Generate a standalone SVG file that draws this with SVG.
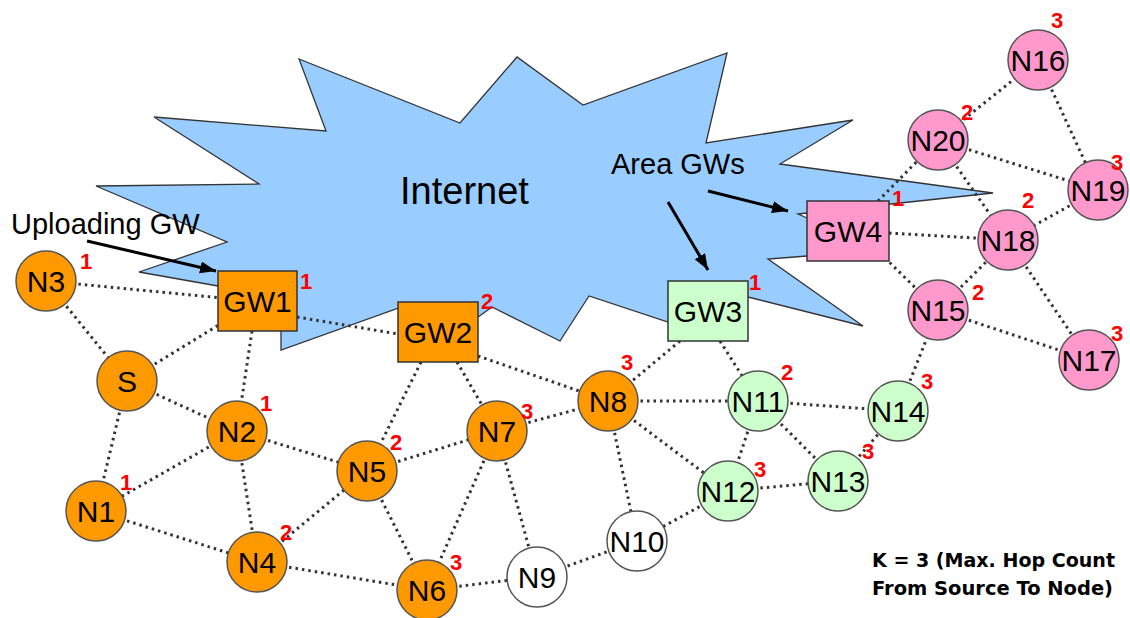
<svg xmlns="http://www.w3.org/2000/svg" width="1130" height="618" viewBox="0 0 1130 618">
<style>
.e{stroke:#333;stroke-width:3;stroke-dasharray:2.5 4;fill:none}
.or{fill:#ff9900;stroke:#555;stroke-width:1.5}
.pk{fill:#ff99cc;stroke:#555;stroke-width:1.5}
.gr{fill:#ccffcc;stroke:#555;stroke-width:1.5}
.wh{fill:#ffffff;stroke:#555;stroke-width:1.5}
.bx{stroke:#333;stroke-width:1.5}
.t{font-family:"Liberation Sans",Arial,sans-serif;font-size:30px;fill:#000;text-anchor:middle}
.h{font-family:"Liberation Sans",Arial,sans-serif;font-size:22px;font-weight:bold;fill:#ff0000;text-anchor:middle}
.a{font-family:"Liberation Sans",Arial,sans-serif;font-size:29px;fill:#000}
.ar{stroke:#000;stroke-width:3;fill:none}
.k{font-family:"DejaVu Sans",Verdana,sans-serif;font-size:19px;font-weight:bold;fill:#000}
</style>
<defs>
<marker id="ah" markerUnits="userSpaceOnUse" markerWidth="18" markerHeight="14" refX="16" refY="6" orient="auto">
<path d="M0,0 L16,6 L0,12 z" fill="#000"/>
</marker>
</defs>
<g id="cloud">
<path d="M299,59 L460,123 L517,57 L583,105 L727,53 L706,143 L853,120 L780,164 L993,193 L798,214 L845,235 L807,256 L768,259 L863,326 L748,297 L668,322 L589,296 L560,341 L492,307 L460,330 L410,304 L281,350 L281,300 L218,286 L139,272 L227,242 L96,186 L259,184 L154,117 L326,131 Z" fill="#99ccff" stroke="#333" stroke-width="1.3"/>
<text class="a" x="400" y="204" style="font-size:38px">Internet</text>
</g>
<g id="annotations">
<text class="a" x="11" y="234">Uploading GW</text>
<text class="a" x="611" y="174">Area GWs</text>
<line class="ar" x1="87" y1="241" x2="216" y2="271" marker-end="url(#ah)"/>
<line class="ar" x1="708" y1="191" x2="788" y2="211" marker-end="url(#ah)"/>
<line class="ar" x1="668" y1="202" x2="708" y2="270" marker-end="url(#ah)"/>
<text class="k" x="872" y="567" textLength="243" lengthAdjust="spacingAndGlyphs">K = 3 (Max.  Hop Count</text>
<text class="k" x="872" y="595" textLength="241" lengthAdjust="spacingAndGlyphs">From Source To Node)</text>
</g>
<g id="connectors">
<line class="e" x1="46" y1="281" x2="222" y2="298"/>
<line class="e" x1="46" y1="281" x2="127" y2="381"/>
<line class="e" x1="127" y1="381" x2="222" y2="323"/>
<line class="e" x1="127" y1="381" x2="237" y2="431"/>
<line class="e" x1="127" y1="381" x2="96" y2="511"/>
<line class="e" x1="252" y1="331" x2="237" y2="431"/>
<line class="e" x1="297" y1="317" x2="398" y2="334"/>
<line class="e" x1="237" y1="431" x2="96" y2="511"/>
<line class="e" x1="237" y1="431" x2="367" y2="471"/>
<line class="e" x1="237" y1="431" x2="257" y2="562"/>
<line class="e" x1="96" y1="511" x2="257" y2="562"/>
<line class="e" x1="257" y1="562" x2="367" y2="471"/>
<line class="e" x1="257" y1="562" x2="427" y2="590"/>
<line class="e" x1="421" y1="362" x2="367" y2="471"/>
<line class="e" x1="367" y1="471" x2="497" y2="431"/>
<line class="e" x1="367" y1="471" x2="427" y2="590"/>
<line class="e" x1="457" y1="362" x2="497" y2="431"/>
<line class="e" x1="478" y1="356" x2="608" y2="401"/>
<line class="e" x1="497" y1="431" x2="608" y2="401"/>
<line class="e" x1="497" y1="431" x2="427" y2="590"/>
<line class="e" x1="497" y1="431" x2="537" y2="577"/>
<line class="e" x1="427" y1="590" x2="537" y2="577"/>
<line class="e" x1="537" y1="577" x2="637" y2="541"/>
<line class="e" x1="608" y1="401" x2="637" y2="541"/>
<line class="e" x1="680" y1="341" x2="608" y2="401"/>
<line class="e" x1="608" y1="401" x2="758" y2="401"/>
<line class="e" x1="608" y1="401" x2="728" y2="491"/>
<line class="e" x1="720" y1="341" x2="758" y2="401"/>
<line class="e" x1="758" y1="401" x2="728" y2="491"/>
<line class="e" x1="758" y1="401" x2="838" y2="481"/>
<line class="e" x1="758" y1="401" x2="898" y2="411"/>
<line class="e" x1="728" y1="491" x2="838" y2="481"/>
<line class="e" x1="728" y1="491" x2="637" y2="541"/>
<line class="e" x1="838" y1="481" x2="898" y2="411"/>
<line class="e" x1="898" y1="411" x2="938" y2="310"/>
<line class="e" x1="885" y1="258" x2="938" y2="310"/>
<line class="e" x1="938" y1="310" x2="1008" y2="240"/>
<line class="e" x1="938" y1="310" x2="1089" y2="360"/>
<line class="e" x1="1008" y1="240" x2="1089" y2="360"/>
<line class="e" x1="889" y1="233" x2="1008" y2="240"/>
<line class="e" x1="878" y1="201" x2="938" y2="140"/>
<line class="e" x1="938" y1="140" x2="1008" y2="240"/>
<line class="e" x1="938" y1="140" x2="1098" y2="190"/>
<line class="e" x1="938" y1="140" x2="1038" y2="60"/>
<line class="e" x1="1038" y1="60" x2="1098" y2="190"/>
<line class="e" x1="1098" y1="190" x2="1008" y2="240"/>
</g>
<g id="N3"><circle class="or" cx="46" cy="281" r="30"/><text class="t" x="46" y="292">N3</text><text class="h" x="86" y="269">1</text></g>
<g id="S"><circle class="or" cx="127" cy="381" r="30"/><text class="t" x="127" y="392">S</text></g>
<g id="GW1"><rect class="bx" x="218" y="271" width="79" height="60" fill="#ff9900"/><text class="t" x="257.5" y="312">GW1</text><text class="h" x="306" y="289">1</text></g>
<g id="GW2"><rect class="bx" x="398" y="302" width="80" height="60" fill="#ff9900"/><text class="t" x="438" y="343">GW2</text><text class="h" x="487" y="309">2</text></g>
<g id="GW3"><rect class="bx" x="668" y="281" width="80" height="60" fill="#ccffcc"/><text class="t" x="708" y="322">GW3</text><text class="h" x="755" y="290">1</text></g>
<g id="GW4"><rect class="bx" x="807" y="201" width="82" height="60" fill="#ff99cc"/><text class="t" x="848" y="242">GW4</text><text class="h" x="898" y="206">1</text></g>
<g id="N2"><circle class="or" cx="237" cy="431" r="30"/><text class="t" x="237" y="442">N2</text><text class="h" x="266" y="411">1</text></g>
<g id="N1"><circle class="or" cx="96" cy="511" r="30"/><text class="t" x="96" y="522">N1</text><text class="h" x="126" y="490">1</text></g>
<g id="N4"><circle class="or" cx="257" cy="562" r="30"/><text class="t" x="257" y="573">N4</text><text class="h" x="286" y="540">2</text></g>
<g id="N5"><circle class="or" cx="367" cy="471" r="30"/><text class="t" x="367" y="482">N5</text><text class="h" x="396" y="450">2</text></g>
<g id="N7"><circle class="or" cx="497" cy="431" r="30"/><text class="t" x="497" y="442">N7</text><text class="h" x="527" y="419">3</text></g>
<g id="N6"><circle class="or" cx="427" cy="590" r="30"/><text class="t" x="427" y="601">N6</text><text class="h" x="456" y="570">3</text></g>
<g id="N8"><circle class="or" cx="608" cy="401" r="30"/><text class="t" x="608" y="412">N8</text><text class="h" x="627" y="370">3</text></g>
<g id="N9"><circle class="wh" cx="537" cy="577" r="30"/><text class="t" x="537" y="588">N9</text></g>
<g id="N10"><circle class="wh" cx="637" cy="541" r="30"/><text class="t" x="637" y="552">N10</text></g>
<g id="N11"><circle class="gr" cx="758" cy="401" r="30"/><text class="t" x="758" y="412">N11</text><text class="h" x="787" y="380">2</text></g>
<g id="N12"><circle class="gr" cx="728" cy="491" r="30"/><text class="t" x="728" y="502">N12</text><text class="h" x="760" y="477">3</text></g>
<g id="N13"><circle class="gr" cx="838" cy="481" r="30"/><text class="t" x="838" y="492">N13</text><text class="h" x="868" y="459">3</text></g>
<g id="N14"><circle class="gr" cx="898" cy="411" r="30"/><text class="t" x="898" y="422">N14</text><text class="h" x="927" y="389">3</text></g>
<g id="N15"><circle class="pk" cx="938" cy="310" r="30"/><text class="t" x="938" y="321">N15</text><text class="h" x="978" y="300">2</text></g>
<g id="N17"><circle class="pk" cx="1089" cy="360" r="30"/><text class="t" x="1089" y="371">N17</text><text class="h" x="1117" y="341">3</text></g>
<g id="N18"><circle class="pk" cx="1008" cy="240" r="30"/><text class="t" x="1008" y="251">N18</text><text class="h" x="1028" y="208">2</text></g>
<g id="N19"><circle class="pk" cx="1098" cy="190" r="30"/><text class="t" x="1098" y="201">N19</text><text class="h" x="1117" y="170">3</text></g>
<g id="N20"><circle class="pk" cx="938" cy="140" r="30"/><text class="t" x="938" y="151">N20</text><text class="h" x="967" y="120">2</text></g>
<g id="N16"><circle class="pk" cx="1038" cy="60" r="30"/><text class="t" x="1038" y="71">N16</text><text class="h" x="1057" y="28">3</text></g>
</svg>
